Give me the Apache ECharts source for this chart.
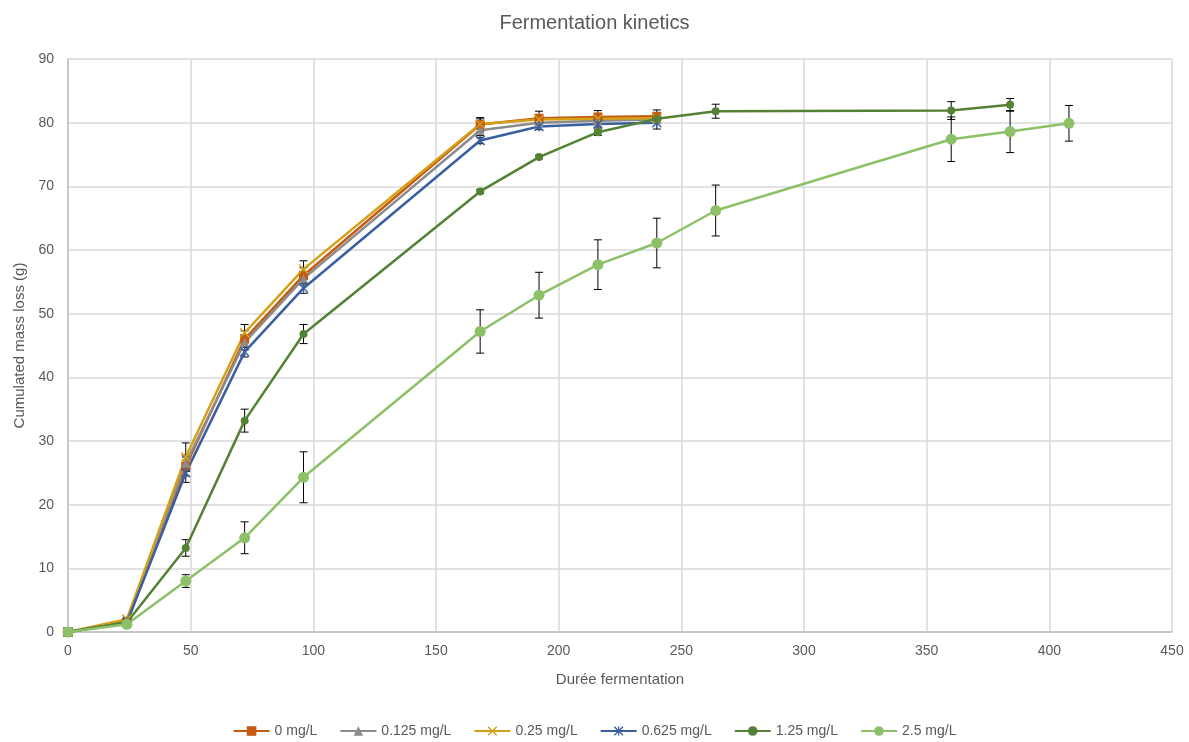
<!DOCTYPE html>
<html>
<head>
<meta charset="utf-8">
<script src="https://cdn.jsdelivr.net/npm/echarts@6/dist/echarts.min.js"></script>
<style>
  html, body { margin: 0; padding: 0; background: #fff; }
  #chart { width: 1189px; height: 742px; }
</style>
</head>
<body>
<div id="chart"></div>
<script>
// durations (h)
var hours = [0, 24, 48, 72, 96, 168, 192, 216, 240, 264, 360, 384, 408];
var hours125 = [0, 24, 48, 72, 96, 168, 192, 216, 240, 264, 360, 384];

var names = ['0 mg/L', '0.125 mg/L', '0.25 mg/L', '0.625 mg/L', '1.25 mg/L', '2.5 mg/L'];

// cumulated mass loss (g)
var loss0 = [0, 1.5, 26.0, 46.0, 56.0, 79.7, 80.7, 80.9, 81.0];
var loss0125 = [0, 1.8, 26.5, 45.5, 55.5, 78.8, 80.0, 80.3, 80.5];
var loss025 = [0, 2.0, 27.5, 47.0, 57.0, 79.8, 80.5, 80.6, 80.7];
var loss0625 = [0, 1.5, 25.0, 44.0, 54.0, 77.2, 79.4, 79.8, 80.0];
var loss125 = [0, 1.5, 13.2, 33.2, 46.8, 69.2, 74.6, 78.5, 80.6, 81.8, 81.9, 82.8];
var loss25 = [0, 1.2, 8.0, 14.8, 24.3, 47.2, 52.9, 57.7, 61.1, 66.2, 77.4, 78.6, 79.9];

// error bars (+/-)
var err0 = [0, 0.3, 1.5, 1.3, 1.2, 1.1, 1.1, 1.0, 1.0];
var err0125 = [0, 0.3, 1.3, 1.2, 1.0, 0.8, 0.6, 0.6, 0.6];
var err025 = [0, 0.3, 2.2, 1.3, 1.3, 0.8, 0.6, 0.6, 0.6];
var err0625 = [0, 0.3, 1.5, 0.8, 0.8, 0.5, 0.5, 0.5, 1.0];
var err125 = [0, 0.3, 1.3, 1.8, 1.5, 0.3, 0.3, 0.5, 0.5, 1.1, 1.4, 1.0];
var err25 = [0, 0.3, 1.0, 2.5, 4.0, 3.4, 3.6, 3.9, 3.9, 4.0, 3.5, 3.3, 2.8];

var colors = ['#C55A11', '#8C8C8C', '#D4A017', '#3A5FA0', '#548235', '#8CC168'];
var symbols = [
  'rect',
  'triangle',
  'path://M0,1 L1,0 L5,4 L9,0 L10,1 L6,5 L10,9 L9,10 L5,6 L1,10 L0,9 L4,5 Z',
  'path://M0,1 L1,0 L5,4 L9,0 L10,1 L6,5 L10,9 L9,10 L5,6 L1,10 L0,9 L4,5 Z M4.4,0 L5.6,0 L5.6,10 L4.4,10 Z',
  'circle',
  'circle'
];
var sizes = [9, 9, 10, 10, 8, 11];
var values = [loss0, loss0125, loss025, loss0625, loss125, loss25];
var errors = [err0, err0125, err025, err0625, err125, err25];
var xs = [hours, hours, hours, hours, hours125, hours];

var font = 'Liberation Sans, Arial, sans-serif';
var series = [];

values.forEach(function (vals, i) {
  var pts = vals.map(function (v, k) { return [xs[i][k], v]; });
  var errPts = vals.map(function (v, k) { return [xs[i][k], v, errors[i][k]]; });
  series.push({
    type: 'custom',
    name: 'err' + i,
    z: 1,
    renderItem: function (params, api) {
      var x = api.value(0), y = api.value(1), e = api.value(2);
      if (!e) { return; }
      var top = api.coord([x, y + e]);
      var bot = api.coord([x, y - e]);
      var hw = 4;
      var st = { stroke: '#000', lineWidth: 1 };
      return {
        type: 'group',
        children: [
          { type: 'line', shape: { x1: top[0], y1: top[1], x2: bot[0], y2: bot[1] }, style: st },
          { type: 'line', shape: { x1: top[0] - hw, y1: top[1], x2: top[0] + hw, y2: top[1] }, style: st },
          { type: 'line', shape: { x1: bot[0] - hw, y1: bot[1], x2: bot[0] + hw, y2: bot[1] }, style: st }
        ]
      };
    },
    data: errPts
  });
  series.push({
    type: 'line',
    name: names[i],
    z: 3,
    data: pts,
    symbol: symbols[i],
    symbolSize: sizes[i],
    showAllSymbol: true,
    lineStyle: { color: colors[i], width: 2.5 },
    itemStyle: { color: colors[i] },
    emphasis: { disabled: true }
  });
});

var myChart = echarts.init(document.getElementById('chart'));
myChart.setOption({
  animation: false,
  color: colors,
  title: {
    text: 'Fermentation kinetics',
    left: 'center',
    top: 8,
    textStyle: { fontFamily: font, fontSize: 20, fontWeight: 'normal', color: '#595959' }
  },
  legend: {
    data: names,
    top: 719,
    left: 'center',
    itemWidth: 36,
    itemHeight: 12,
    itemGap: 22,
    textStyle: { fontFamily: font, fontSize: 14, color: '#595959' }
  },
  grid: { left: 68, right: 17, top: 59, bottom: 110 },
  xAxis: {
    type: 'value',
    min: 0,
    max: 450,
    interval: 50,
    name: 'Durée fermentation',
    nameLocation: 'middle',
    nameGap: 40,
    nameTextStyle: { fontFamily: font, fontSize: 15, color: '#595959' },
    axisLine: { lineStyle: { color: '#BFBFBF', width: 1.5 } },
    axisTick: { show: false },
    axisLabel: { fontFamily: font, fontSize: 14, color: '#595959', margin: 12 },
    splitLine: { lineStyle: { color: '#D9D9D9', width: 1.5 } }
  },
  yAxis: {
    type: 'value',
    min: 0,
    max: 90,
    interval: 10,
    name: 'Cumulated mass loss (g)',
    nameLocation: 'middle',
    nameGap: 38,
    nameTextStyle: { fontFamily: font, fontSize: 15, color: '#595959' },
    axisLine: { show: true, lineStyle: { color: '#BFBFBF', width: 1.5 } },
    axisTick: { show: false },
    axisLabel: { fontFamily: font, fontSize: 14, color: '#595959', margin: 14 },
    splitLine: { lineStyle: { color: '#D9D9D9', width: 1.5 } }
  },
  series: series
});
window.addEventListener('resize', function () { myChart.resize(); });
</script>
</body>
</html>
